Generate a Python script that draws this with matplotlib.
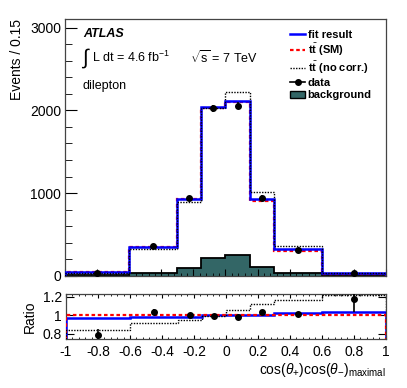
import numpy as np
import matplotlib
matplotlib.use("Agg")
import matplotlib.pyplot as plt
from matplotlib.lines import Line2D
from matplotlib.patches import Patch
from matplotlib.ticker import MultipleLocator, FixedLocator

plt.rcParams['font.family'] = ['Liberation Sans', 'DejaVu Sans']
plt.rcParams['mathtext.fontset'] = 'custom'
plt.rcParams['mathtext.rm'] = 'Liberation Sans'
plt.rcParams['mathtext.it'] = 'Liberation Sans:italic'
plt.rcParams['mathtext.bf'] = 'Liberation Sans:bold'

# binning
edges = [-1.0, -0.6, -0.3, -0.15, 0.0, 0.15, 0.3, 0.6, 1.0]
centers = [-0.8, -0.45, -0.225, -0.075, 0.075, 0.225, 0.45, 0.8]

# main panel (events)
fit_result = [45, 343, 927, 2036, 2116, 924, 319, 29]
tt_sm = [46, 348, 935, 2025, 2097, 905, 300, 28]
tt_nocorr = [40, 323, 895, 2030, 2225, 1012, 355, 33]
background = [15, 36, 100, 218, 250, 109, 36, 8]
data = [38, 363, 940, 2024, 2056, 943, 311, 30]
data_err = [6, 19, 31, 45, 45, 31, 18, 6]

# ratio panel
ratio_fit = [0.972, 0.986, 0.986, 1.007, 1.007, 1.007, 1.02, 1.036]
ratio_sm = [1, 1, 1, 1, 1, 1, 1, 1]
ratio_nocorr = [0.84, 0.914, 0.95, 0.995, 1.058, 1.12, 1.166, 1.216]
ratio_data = [0.79, 1.04, 1.005, 0.995, 0.98, 1.035, 1.015, 1.18]
ratio_err = [0.06, 0.03, 0.015, 0.012, 0.012, 0.015, 0.025, 0.14]

bg_color = '#336666'
red_ls = (0, (1.6, 1.2))
dot_ls = (0, (1, 1))

fig = plt.figure(figsize=(4.07, 3.88), dpi=100)
ax = fig.add_axes([0.160, 0.289, 0.788, 0.661])
rax = fig.add_axes([0.162, 0.126, 0.786, 0.116])

# main histograms
ax.stairs(background, edges, fill=True, color=bg_color, zorder=1)
ax.stairs(background, edges, color='black', lw=1.3, zorder=2)
ax.stairs(tt_sm, edges, color='red', lw=1.6, ls=red_ls, zorder=3)
ax.stairs(fit_result, edges, color='blue', lw=1.8, zorder=4)
ax.stairs(tt_nocorr, edges, color='black', lw=1.0, ls=dot_ls, zorder=5)
ax.errorbar(centers, data, yerr=data_err, fmt='o', color='black', ms=4,
            lw=1.2, capsize=0, zorder=6)

ax.set_xlim(-1, 1)
ax.set_ylim(0, 3100)
ax.yaxis.set_major_locator(FixedLocator([0, 1000, 2000, 3000]))
ax.yaxis.set_minor_locator(MultipleLocator(200))
ax.xaxis.set_major_locator(MultipleLocator(0.2))
ax.xaxis.set_minor_locator(MultipleLocator(0.04))
ax.tick_params(axis='x', which='major', direction='in', length=5, labelbottom=False)
ax.tick_params(axis='x', which='minor', direction='in', length=2.5)
ax.tick_params(axis='y', which='major', direction='in', length=8.5, labelsize=10, pad=3)
ax.tick_params(axis='y', which='minor', direction='in', length=5)
ax.set_ylabel('Events / 0.15', fontsize=10, loc='top', labelpad=4)
for s in ax.spines.values():
    s.set_linewidth(0.9)
    s.set_color('#444444')

ax.text(0.055, 0.945, 'ATLAS', transform=ax.transAxes, fontsize=9,
        fontweight='bold', style='italic', va='center')
ax.text(0.05, 0.85, r'$\int$', transform=ax.transAxes, fontsize=15, va='center')
ax.text(0.085, 0.85, r'L dt = 4.6 fb$^{-1}$', transform=ax.transAxes,
        fontsize=9, va='center')
ax.text(0.39, 0.85, r'$\sqrt{\mathrm{s}}$ = 7 TeV', transform=ax.transAxes,
        fontsize=9, va='center')
ax.text(0.055, 0.74, 'dilepton', transform=ax.transAxes, fontsize=9, va='center')

handles = [
    Line2D([], [], color='blue', lw=1.8),
    Line2D([], [], color='red', lw=1.6, ls=red_ls),
    Line2D([], [], color='black', lw=1.0, ls=dot_ls),
    Line2D([], [], color='black', marker='o', ms=4, lw=1.2),
    Patch(facecolor=bg_color, edgecolor='black', lw=1.0),
]
labels = ['fit result', r't$\bar{\mathbf{t}}$ (SM)', r't$\bar{\mathbf{t}}$ (no corr.)',
          'data', 'background']
ax.legend(handles, labels, loc='upper left', bbox_to_anchor=(0.685, 0.98),
          frameon=False, borderpad=0, handlelength=1.3, handletextpad=0.25,
          labelspacing=0.18, prop={'size': 8, 'weight': 'bold'})

# ratio panel
rax.stairs(ratio_fit, edges, color='blue', lw=1.8, zorder=3)
rax.stairs(ratio_sm, edges, color='red', lw=1.6, ls=red_ls, zorder=4)
rax.stairs(ratio_nocorr, edges, color='black', lw=1.0, ls=dot_ls, zorder=5)
rax.errorbar(centers, ratio_data, yerr=ratio_err, fmt='o', color='black', ms=4,
             lw=1.2, capsize=0, zorder=6)
rax.set_xlim(-1, 1)
rax.set_ylim(0.74, 1.23)
rax.set_yticks([0.8, 1.0, 1.2])
rax.set_yticklabels(['0.8', '1', '1.2'])
rax.xaxis.set_minor_locator(MultipleLocator(0.04))
rax.set_xticks(np.round(np.arange(-1, 1.01, 0.2), 1))
rax.set_xticklabels(['-1', '-0.8', '-0.6', '-0.4', '-0.2', '0', '0.2', '0.4',
                     '0.6', '0.8', '1'])
rax.tick_params(axis='x', which='major', direction='in', length=3, top=True,
                labelsize=10, pad=4)
rax.tick_params(axis='x', which='minor', direction='in', length=1.5, top=True)
rax.tick_params(axis='y', which='major', direction='in', length=6, right=True,
                labelsize=10, pad=3)
rax.set_ylabel('Ratio', fontsize=10, labelpad=4)
for s in rax.spines.values():
    s.set_linewidth(0.9)
    s.set_color('#444444')
rax.set_xlabel(r'cos($\theta_{+}$)cos($\theta_{-}$)$_{\mathrm{maximal}}$',
               fontsize=10, loc='right', labelpad=2)

fig.savefig('out.png', dpi=100)
